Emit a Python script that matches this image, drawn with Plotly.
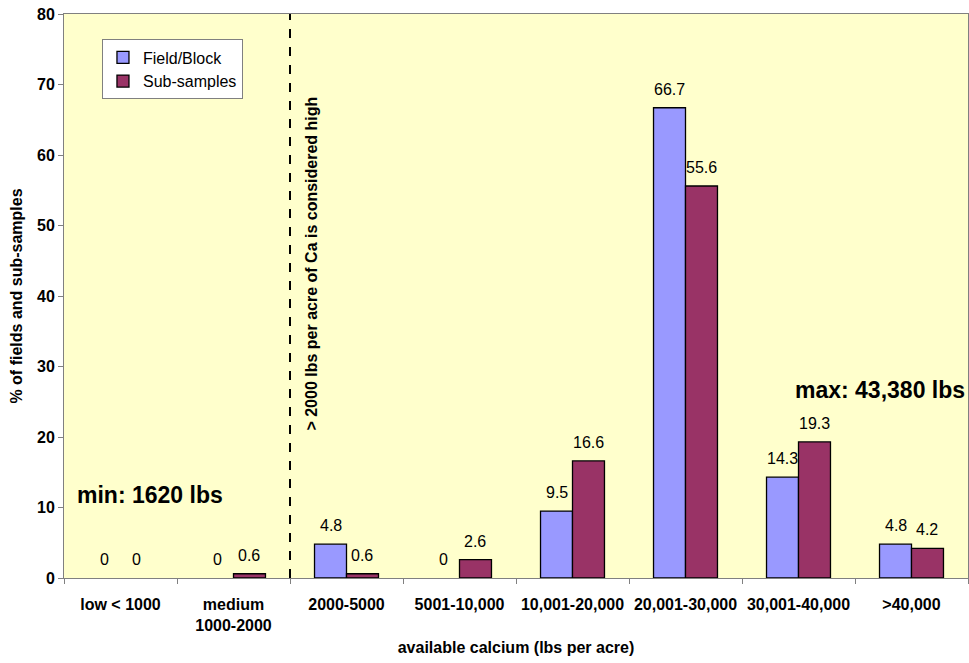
import plotly.graph_objects as go

categories = ["low < 1000", "medium<br>1000-2000", "2000-5000", "5001-10,000",
              "10,001-20,000", "20,001-30,000", "30,001-40,000", ">40,000"]
field_block = [0, 0, 4.8, 0, 9.5, 66.7, 14.3, 4.8]
sub_samples = [0, 0.6, 0.6, 2.6, 16.6, 55.6, 19.3, 4.2]

FONT = "Liberation Sans, Arial, sans-serif"
BAR_W = 0.283  # width of one bar in category units

fig = go.Figure()
for name, values, color, side in [("Field/Block", field_block, "#9999FF", -1),
                                  ("Sub-samples", sub_samples, "#993366", 1)]:
    # zero-height bars are left empty so no outline sits on the axis
    fig.add_bar(x=categories, y=[v if v else None for v in values], name=name,
                marker=dict(color=color, line=dict(color="black", width=1.3)))
    # value labels above each bar
    for i, v in enumerate(values):
        fig.add_annotation(x=i + side * BAR_W / 2, y=v, xref="x", yref="y",
                           text=f"{v:g}", showarrow=False, yanchor="bottom", yshift=8,
                           font=dict(size=16, color="black", family=FONT))

# threshold line between medium and high categories
fig.add_shape(type="line", xref="x", yref="paper", x0=1.5, x1=1.5, y0=0, y1=1,
              line=dict(color="black", width=2, dash="dash"))

fig.add_annotation(x=1.5, y=44.6, xref="x", yref="y", xshift=22, textangle=-90,
                   text="> 2000 lbs per acre of Ca is considered high",
                   showarrow=False, font=dict(size=16, color="black", family=FONT, weight="bold"))
fig.add_annotation(x=0.26, y=11.8, xref="x", yref="y", text="min: 1620 lbs",
                   showarrow=False, font=dict(size=23, color="black", family=FONT, weight="bold"))
fig.add_annotation(x=6.72, y=26.7, xref="x", yref="y", text="max: 43,380 lbs",
                   showarrow=False, font=dict(size=23, color="black", family=FONT, weight="bold"))

fig.update_layout(
    width=969, height=663,
    margin=dict(l=64, r=1, t=14, b=85),
    paper_bgcolor="white", plot_bgcolor="#FFFFCC",
    font=dict(family=FONT, color="black"),
    barmode="group", bargap=1 - 2 * BAR_W, bargroupgap=0,
    showlegend=True,
    legend=dict(x=0.042, y=0.955, xanchor="left", yanchor="top",
                bgcolor="white", bordercolor="#808080", borderwidth=1,
                font=dict(size=16), itemwidth=30, tracegroupgap=0),
    xaxis=dict(showgrid=False, showline=True, linecolor="#808080", linewidth=1, mirror=True,
               ticks="outside", tickson="boundaries", ticklen=5, tickcolor="#808080",
               ticklabelstandoff=12,
               tickfont=dict(size=16, weight="bold"),
               title=dict(text="available calcium (lbs per acre)", standoff=8,
                          font=dict(size=16, weight="bold"))),
    yaxis=dict(range=[0, 80], dtick=10, showgrid=False, showline=True, linecolor="#808080",
               linewidth=1, mirror=True, ticks="outside", ticklen=5, tickcolor="#808080",
               tickfont=dict(size=16, weight="bold"), zeroline=False,
               title=dict(text="% of fields and sub-samples", standoff=10,
                          font=dict(size=16, weight="bold"))),
)

fig.write_html("out.html")
